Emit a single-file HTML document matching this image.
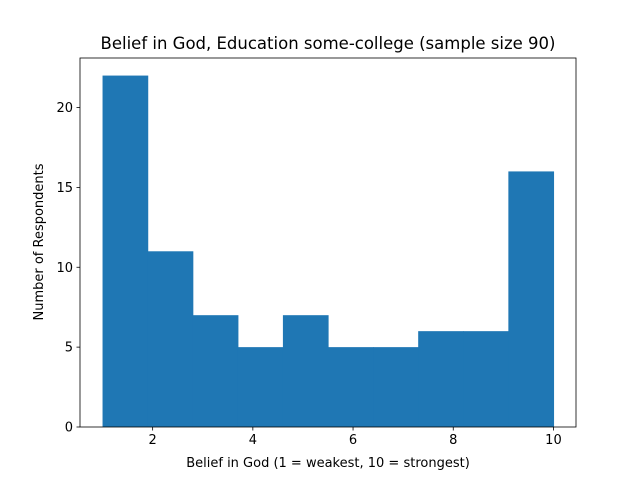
<!DOCTYPE html>
<html><head><meta charset="utf-8"><style>
body{margin:0;background:#fff;font-family:"Liberation Sans","DejaVu Sans",sans-serif;}
</style></head><body>
<svg id="chart" width="640" height="480" xmlns="http://www.w3.org/2000/svg" font-family="DejaVu Sans, Liberation Sans, sans-serif">
<rect width="640" height="480" fill="#fff"/>
<g id="bars"></g>
<g id="axes"></g>
<text x="328" y="49" text-anchor="middle" font-size="16.5">Belief in God, Education some-college (sample size 90)</text>
<text x="328" y="467" text-anchor="middle" font-size="13">Belief in God (1 = weakest, 10 = strongest)</text>
<text x="43" y="242" text-anchor="middle" font-size="13" transform="rotate(-90 43 242)">Number of Respondents</text>
</svg>
<script>
const binEdges = [1,1.9,2.8,3.7,4.6,5.5,6.4,7.3,8.2,9.1,10];
const counts = [22,11,7,5,7,5,5,6,6,16];
const xTicks = [2,4,6,8,10];
const yTicks = [0,5,10,15,20];
const L=80,R=576,T=58,B=427;
const xmin=0.55,xmax=10.45,ymax=23.1;
const NS="http://www.w3.org/2000/svg";
function sx(v){return L+(v-xmin)/(xmax-xmin)*(R-L);}
function sy(v){return B-v/ymax*(B-T);}
function mk(tag,attrs,parent){const e=document.createElementNS(NS,tag);for(const k in attrs)e.setAttribute(k,attrs[k]);parent.appendChild(e);return e;}
const bars=document.getElementById('bars'),axes=document.getElementById('axes');
counts.forEach((c,i)=>{
  const x0=sx(binEdges[i]),x1=sx(binEdges[i+1]);
  const r=mk('rect',{x:x0,y:sy(c),width:x1-x0+0.6,height:B-sy(c),fill:'#1f77b4'},bars);
  
  
});
const frame=mk('rect',{x:L,y:T,width:R-L,height:B-T,fill:'none',stroke:'#000','stroke-width':0.8},axes);


xTicks.forEach(t=>{
  const x=sx(t);
  const l=mk('line',{x1:x,x2:x,y1:B,y2:B+3.5,stroke:'#000','stroke-width':0.8},axes);
  
  
  const tx=mk('text',{x:x,y:B+17,'text-anchor':'middle','font-size':13},axes);
  tx.textContent=t;
  
  
});
yTicks.forEach(t=>{
  const y=sy(t);
  const l=mk('line',{x1:L-3.5,x2:L,y1:y,y2:y,stroke:'#000','stroke-width':0.8},axes);
  
  
  const tx=mk('text',{x:L-7,y:y+4.5,'text-anchor':'end','font-size':13},axes);
  tx.textContent=t;
  
  
});
</script>
</body></html>
